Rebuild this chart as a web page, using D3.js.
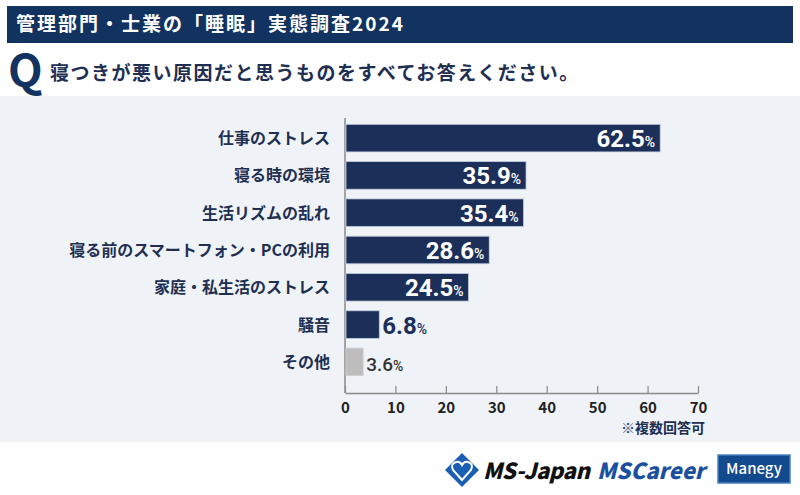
<!DOCTYPE html>
<html>
<head>
<meta charset="utf-8">
<title>睡眠実態調査2024</title>
<script src="https://d3js.org/d3.v7.min.js"></script>
<style>
  body { margin: 0; background: #fff; }
  svg { display: block; }
  text { font-family: "Noto Sans CJK JP", sans-serif; }
  .num { font-family: Roboto, "Noto Sans", sans-serif; }
</style>
</head>
<body>
<svg width="800" height="495"></svg>
<script>
// data
const categories = ["仕事のストレス", "寝る時の環境", "生活リズムの乱れ", "寝る前のスマートフォン・PCの利用", "家庭・私生活のストレス", "騒音", "その他"];
const values = [62.5, 35.9, 35.4, 28.6, 24.5, 6.8, 3.6];
const xTicks = [0, 10, 20, 30, 40, 50, 60, 70];

const title = "管理部門・士業の「睡眠」実態調査2024";
const question = "寝つきが悪い原因だと思うものをすべてお答えください。";
const note = "※複数回答可";

const navy = "#1b2f59";
const dark = "#12325f";

const svg = d3.select("svg");

// header banner
svg.append("rect").attr("x", 7).attr("y", 6).attr("width", 786).attr("height", 37).attr("fill", dark);
svg.append("text")
    .attr("x", 16).attr("y", 31)
    .attr("fill", "#fff")
    .attr("font-size", 19).attr("font-weight", 700)
    .attr("letter-spacing", 2)
    .text(title);

// question
svg.append("text")
    .attr("x", 8).attr("y", 87)
    .attr("fill", dark)
    .attr("font-family", "Roboto, sans-serif")
    .attr("font-size", 45).attr("font-weight", 700)
    .text("Q");
svg.append("text")
    .attr("x", 50).attr("y", 80)
    .attr("fill", "#1e2f52")
    .attr("font-size", 19).attr("font-weight", 700)
    .attr("letter-spacing", 1.5)
    .text(question);

// panel
svg.append("rect").attr("x", 0).attr("y", 96).attr("width", 800).attr("height", 346).attr("fill", "#eff3f7");

const x = d3.scaleLinear().domain([0, 70]).range([345, 698]);
const y = d3.scaleBand().domain(categories).range([115, 385]).paddingInner(0.26).paddingOuter(0.25);

const data = categories.map((c, i) => ({ cat: c, val: values[i] }));

// x axis
const axisG = svg.append("g").attr("transform", "translate(0,393)");
axisG.call(d3.axisBottom(x).tickValues(xTicks).tickSize(0).tickPadding(0));
axisG.select(".domain").attr("stroke", "#8a8a8a").attr("stroke-width", 1.5);
axisG.selectAll(".tick line").remove();
axisG.selectAll(".tick").append("line")
    .attr("y1", 0).attr("y2", -7)
    .attr("stroke", "#8a8a8a").attr("stroke-width", 1.2);
axisG.selectAll(".tick text")
    .attr("y", 20).attr("dy", 0)
    .attr("fill", "#222")
    .attr("font-family", "Roboto, sans-serif")
    .attr("font-size", 15).attr("font-weight", 700);

// vertical baseline
svg.append("line")
    .attr("x1", x(0)).attr("x2", x(0))
    .attr("y1", 118).attr("y2", 393)
    .attr("stroke", "#8a8a8a").attr("stroke-width", 1.5);

// bars
svg.selectAll("rect.bar")
    .data(data)
    .enter().append("rect")
    .attr("class", "bar")
    .attr("x", x(0) + 1)
    .attr("y", d => y(d.cat))
    .attr("width", d => x(d.val) - x(0) - 1)
    .attr("height", y.bandwidth())
    .attr("fill", d => d.cat === "その他" ? "#bdbdbd" : navy)
    .attr("stroke", d => d.cat === "その他" ? "#d0d0d0" : "#c5cee0")
    .attr("stroke-width", 0.8);

// category labels
svg.selectAll("text.cat")
    .data(data)
    .enter().append("text")
    .attr("class", "cat")
    .attr("x", 330)
    .attr("y", d => y(d.cat) + y.bandwidth() / 2 + 6)
    .attr("text-anchor", "end")
    .attr("fill", "#1e2f52")
    .attr("font-size", 16).attr("font-weight", 700)
    .text(d => d.cat);

// value labels
const inside = d => d.val > 20;
const lbl = svg.selectAll("text.val")
    .data(data)
    .enter().append("text")
    .attr("class", "val num")
    .attr("x", d => inside(d) ? x(d.val) - 5 : x(d.val) + 3)
    .attr("y", d => y(d.cat) + y.bandwidth() / 2 + 9)
    .attr("text-anchor", d => inside(d) ? "end" : "start")
    .attr("fill", d => inside(d) ? "#fff" : (d.cat === "その他" ? "#333" : navy))
    .attr("font-weight", d => d.cat === "その他" ? 500 : 700);
lbl.append("tspan")
    .attr("font-size", d => d.cat === "その他" ? 19 : 24)
    .text(d => d.val.toFixed(1));
lbl.append("tspan")
    .attr("font-size", 14)
    .attr("font-weight", 500)
    .text("%");

// note
svg.append("text")
    .attr("x", 705).attr("y", 433)
    .attr("text-anchor", "end")
    .attr("fill", "#1e2f52")
    .attr("font-size", 14).attr("font-weight", 700)
    .text(note);

// logos
const logo = svg.append("g");
logo.append("rect")
    .attr("x", 450).attr("y", 458).attr("width", 24).attr("height", 24)
    .attr("transform", "rotate(45 462 470)")
    .attr("fill", "#1a5fb4");
logo.append("path")
    .attr("d", "M462 480 L453 470 Q450 464 456 462 Q460 461 462 465 Q464 461 468 462 Q474 464 471 470 Z")
    .attr("fill", "none").attr("stroke", "#fff").attr("stroke-width", 2);
logo.append("text")
    .attr("x", 483).attr("y", 479)
    .attr("font-family", "Roboto, sans-serif")
    .attr("font-size", 22).attr("font-weight", 900).attr("font-style", "italic")
    .attr("fill", "#111")
    .attr("textLength", 107)
    .text("MS-Japan");
logo.append("text")
    .attr("x", 597).attr("y", 479)
    .attr("font-family", "Roboto, sans-serif")
    .attr("font-size", 22).attr("font-weight", 900).attr("font-style", "italic")
    .attr("fill", "#1b4fa0")
    .attr("textLength", 108)
    .text("MSCareer");
logo.append("rect")
    .attr("x", 718).attr("y", 455).attr("width", 72).attr("height", 28)
    .attr("fill", "#134a8e").attr("stroke", "#4a7fc0").attr("stroke-width", 1.5);
logo.append("text")
    .attr("x", 754).attr("y", 474)
    .attr("text-anchor", "middle")
    .attr("font-family", "Roboto, sans-serif")
    .attr("font-size", 15).attr("font-weight", 500)
    .attr("fill", "#fff")
    .text("Manegy");
</script>
</body>
</html>
